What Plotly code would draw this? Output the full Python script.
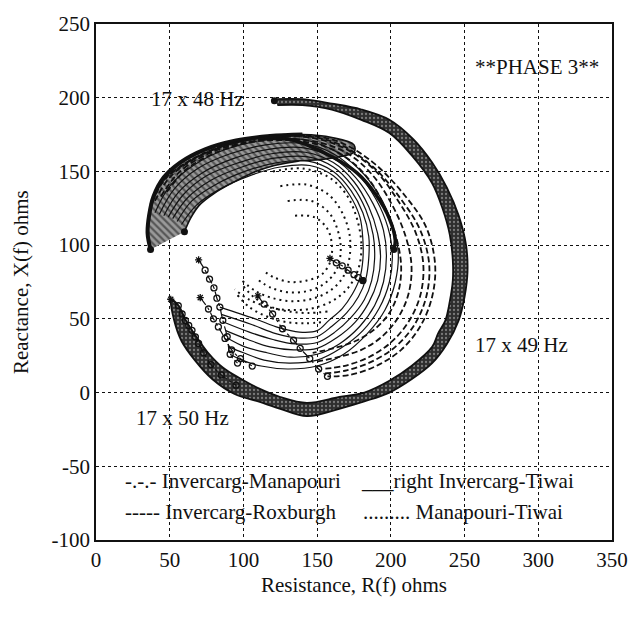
import plotly.graph_objects as go

FONT = "Liberation Serif"

# ---- axis ticks ----
x_tickvals = [0, 50, 100, 150, 200, 250, 300, 350]
x_ticktext = ["0", "50", "100", "150", "200", "250", "300", "350"]
y_tickvals = [-100, -50, 0, 50, 100, 150, 200, 250]
y_ticktext = ["-100", "-50", "0", "50", "100", "150", "200", "250"]

# ---- outer locus band (Invercarg-Tiwai, 17x48 -> 17x50 Hz) ----
ring_outer_x = [121, 140, 160, 180, 199, 215, 228, 238, 246, 251, 252, 250, 246, 238, 228, 214, 199, 182, 165, 143, 125, 110, 94, 79, 67, 58, 53, 51]
ring_outer_y = [199, 199, 196, 192, 185, 172, 156, 139, 120, 100, 82, 65, 49, 33, 20, 9, 0, -6, -11, -16, -11, -6, -1, 9, 22, 35, 49, 63]
ring_inner_x = [123, 140, 160, 180, 199, 214, 228, 235, 240, 242, 242, 240, 237, 232, 228, 214, 199, 182, 165, 143, 125, 110, 97, 86, 76, 68, 61, 56]
ring_inner_y = [195, 195, 192, 185, 176, 161, 142, 125, 107, 90, 76, 62, 49, 40, 31, 18, 8, 0, -3, -7, -3, 3, 10, 17, 27, 38, 49, 59]

# ---- 17 x 48 Hz band (upper left) ----
band48_outer_x = [37, 35, 36, 39, 46, 57, 74, 95, 118, 140, 160, 175]
band48_outer_y = [97, 108, 120, 133, 146, 156, 165, 171, 174, 175, 173, 168]
band48_inner_x = [60, 64, 70, 80, 92, 106, 121, 137, 152, 165, 175]
band48_inner_y = [109, 118, 127, 135, 142, 149, 154, 157, 158, 160, 163]

# ---- heavy arc ending near 17 x 49 Hz ----
K1_x = [110, 130, 143, 160, 177, 190, 199, 203, 202]
K1_y = [172, 172, 168, 160, 149, 134, 118, 103, 97]
# heavy outer edge of the 48 Hz band
K2_x = [37, 35, 36, 39, 46, 57, 74, 95, 118, 140]
K2_y = [97, 108, 120, 133, 146, 156, 165, 171, 174, 175]

# ---- Invercarg-Tiwai inner loci (solid) ----
T1_x = [40, 50, 66, 88, 112, 138, 160, 178, 192, 201, 205, 203, 196, 184, 168, 150, 130, 112, 99, 91]
T1_y = [122, 140, 154, 165, 171, 172, 165, 152, 134, 114, 95, 75, 56, 40, 26, 18, 16, 18, 22, 26]
T2_x = [43, 53, 69, 91, 115, 140, 161, 177, 190, 198, 201, 199, 192, 181, 166, 150, 131, 114, 100, 90]
T2_y = [121, 138, 152, 162, 168, 169, 162, 149, 131, 112, 94, 75, 57, 42, 30, 22, 20, 22, 27, 31]
T3_x = [46, 56, 72, 94, 117, 141, 161, 176, 188, 195, 197, 195, 189, 179, 165, 150, 132, 116, 101, 89]
T3_y = [120, 136, 149, 159, 165, 166, 159, 146, 128, 110, 93, 75, 59, 45, 33, 26, 24, 27, 31, 37]
T4_x = [49, 59, 75, 97, 119, 142, 161, 175, 185, 191, 193, 191, 185, 176, 163, 150, 134, 118, 103, 88]
T4_y = [119, 134, 147, 156, 162, 163, 156, 143, 126, 108, 92, 76, 61, 48, 37, 30, 29, 31, 36, 42]
T5_x = [52, 62, 78, 99, 121, 143, 161, 174, 183, 188, 189, 187, 182, 173, 162, 150, 135, 120, 104, 86]
T5_y = [118, 132, 144, 153, 159, 160, 153, 140, 124, 107, 91, 76, 63, 51, 41, 34, 33, 36, 41, 48]
T6_x = [55, 65, 81, 101, 123, 144, 161, 173, 181, 185, 185, 183, 178, 170, 160, 150, 137, 122, 106, 85]
T6_y = [116, 130, 141, 150, 156, 157, 150, 137, 122, 106, 91, 77, 65, 54, 45, 38, 37, 40, 46, 53]
T7_x = [58, 68, 84, 104, 125, 145, 161, 172, 179, 181, 181, 179, 174, 167, 158, 150, 138, 124, 108, 84]
T7_y = [114, 127, 138, 147, 153, 154, 147, 134, 119, 104, 90, 78, 67, 57, 49, 42, 41, 44, 50, 58]

# ---- Invercarg-Roxburgh loci (dashed) ----
D1_x = [37, 45, 60, 82, 110, 140, 165, 188, 210, 224, 230, 228, 220, 207, 190, 172, 157]
D1_y = [128, 143, 155, 166, 173, 175, 170, 156, 133, 112, 87, 65, 45, 29, 18, 12, 11]
D2_x = [38, 47, 63, 86, 114, 142, 166, 188, 207, 220, 226, 224, 216, 203, 187, 170, 155]
D2_y = [129, 145, 157, 167, 173, 174, 168, 153, 131, 110, 87, 65, 46, 31, 21, 15, 13]
D3_x = [40, 50, 66, 90, 118, 145, 168, 189, 205, 217, 222, 220, 212, 200, 185, 168, 153]
D3_y = [130, 146, 158, 168, 173, 173, 166, 151, 130, 108, 87, 66, 48, 34, 24, 18, 16]
D4_x = [44, 56, 74, 98, 125, 150, 171, 188, 201, 210, 214, 212, 205, 194, 180, 164, 150]
D4_y = [133, 149, 161, 169, 172, 170, 162, 147, 127, 106, 86, 67, 51, 38, 29, 24, 21]
D5_x = [48, 62, 82, 106, 132, 155, 173, 187, 197, 204, 207, 205, 199, 189, 176, 161, 147]
D5_y = [136, 152, 163, 170, 171, 167, 157, 142, 123, 104, 85, 68, 54, 43, 35, 30, 27]

# ---- Invercarg-Manapouri loci (dash-dot, open circles) ----
M1_x = [69.6, 74, 77, 80, 82, 84, 86, 89, 91, 96]
M1_y = [90, 83, 77, 71, 64, 58, 49, 38, 26, 20]
M2_x = [50.7, 55.8, 58.4, 60.6, 62.9, 65.1, 67.4, 69.6, 73, 78, 85, 95]
M2_y = [63.3, 58.9, 53.3, 48.9, 45.5, 42.2, 37.8, 33.3, 27, 19, 12, 5]
M3_x = [70.7, 76.3, 79.7, 83, 87.5, 92, 98, 106]
M3_y = [64.4, 56.7, 50, 44.5, 36.7, 29, 23, 18]
M4_x = [109.8, 114, 119.8, 126.5, 134, 138.5, 145, 151, 157]
M4_y = [65.6, 60, 53.3, 43.3, 35.5, 30, 23, 16, 11]
M5_x = [158.7, 163, 167, 171, 175, 178, 181]
M5_y = [91, 88, 86, 83, 80, 78, 76]

# ---- Manapouri-Tiwai loci (dotted) ----
P1_x = [120, 140, 158, 170, 177, 180, 178, 171, 160, 146, 131, 117, 104, 94]
P1_y = [150, 152, 146, 134, 118, 100, 84, 71, 62, 57, 56, 58, 63, 70]
P2_x = [125, 143, 158, 167, 172, 172, 168, 160, 148, 134, 120, 108, 99]
P2_y = [140, 141, 134, 122, 107, 92, 79, 70, 64, 62, 64, 69, 76]
P3_x = [130, 146, 158, 164, 166, 163, 155, 144, 131, 119, 109]
P3_y = [130, 130, 122, 110, 96, 83, 74, 69, 68, 71, 77]
P4_x = [135, 148, 157, 160, 159, 153, 143, 132, 121, 113]
P4_y = [120, 119, 111, 100, 89, 80, 76, 75, 78, 83]
P5_x = [96, 104, 115, 128, 142, 155]
P5_y = [66, 58, 52, 48, 47, 48]
P6_x = [100, 108, 119, 131, 144, 157]
P6_y = [72, 64, 58, 55, 54, 55]

# ---- heavy end points ----
ends_x = [121, 37, 60, 181, 202]
ends_y = [198, 97, 109, 76, 97]

fig = go.Figure()

BLACK = "#111111"

# outer band (stippled)
fig.add_trace(go.Scatter(x=ring_outer_x + ring_inner_x[::-1], y=ring_outer_y + ring_inner_y[::-1],
                         mode="lines", fill="toself",
                         fillpattern=dict(shape=".", bgcolor="#2e2e2e", fgcolor="#c8c8c8", size=4, solidity=0.25),
                         line=dict(color=BLACK, width=1.8, shape="spline"), hoverinfo="skip", showlegend=False))
# 48 Hz band (hatched)
fig.add_trace(go.Scatter(x=band48_outer_x + band48_inner_x[::-1], y=band48_outer_y + band48_inner_y[::-1],
                         mode="lines", fill="toself",
                         fillpattern=dict(shape="\\", bgcolor="#9a9a9a", fgcolor=BLACK, size=5, solidity=0.45),
                         line=dict(color=BLACK, width=1.6, shape="spline"), hoverinfo="skip", showlegend=False))
fig.add_trace(go.Scatter(x=K2_x, y=K2_y, mode="lines", line=dict(color=BLACK, width=4, shape="spline"),
                         hoverinfo="skip", showlegend=False))

for xs, ys in [(T1_x, T1_y), (T2_x, T2_y), (T3_x, T3_y), (T4_x, T4_y),
               (T5_x, T5_y), (T6_x, T6_y), (T7_x, T7_y)]:
    fig.add_trace(go.Scatter(x=xs, y=ys, mode="lines", line=dict(color=BLACK, width=1.2, shape="spline"),
                             hoverinfo="skip", showlegend=False))

fig.add_trace(go.Scatter(x=K1_x, y=K1_y, mode="lines", line=dict(color=BLACK, width=3.5, shape="spline"),
                         hoverinfo="skip", showlegend=False))

for xs, ys in [(D1_x, D1_y), (D2_x, D2_y), (D3_x, D3_y), (D4_x, D4_y), (D5_x, D5_y)]:
    fig.add_trace(go.Scatter(x=xs, y=ys, mode="lines",
                             line=dict(color=BLACK, width=1.8, dash="6px,3px", shape="spline"),
                             hoverinfo="skip", showlegend=False))

for xs, ys in [(M1_x, M1_y), (M2_x, M2_y), (M3_x, M3_y), (M4_x, M4_y), (M5_x, M5_y)]:
    syms = ["asterisk-open"] + ["circle-open"] * (len(xs) - 1)
    fig.add_trace(go.Scatter(x=xs, y=ys, mode="lines+markers",
                             line=dict(color=BLACK, width=1.2, dash="dashdot", shape="spline"),
                             marker=dict(symbol=syms, size=6, color=BLACK, line=dict(width=1.3, color=BLACK)),
                             hoverinfo="skip", showlegend=False))

for xs, ys in [(P1_x, P1_y), (P2_x, P2_y), (P3_x, P3_y), (P4_x, P4_y), (P5_x, P5_y), (P6_x, P6_y)]:
    fig.add_trace(go.Scatter(x=xs, y=ys, mode="lines",
                             line=dict(color=BLACK, width=2, dash="2px,4px", shape="spline"),
                             hoverinfo="skip", showlegend=False))

fig.add_trace(go.Scatter(x=ends_x, y=ends_y, mode="markers",
                         marker=dict(size=7, color=BLACK), hoverinfo="skip", showlegend=False))

txt = dict(family=FONT, size=21, color=BLACK)
annots = [
    dict(x=299, y=221, text="**PHASE 3**", xanchor="center", yanchor="middle"),
    dict(x=69, y=199, text="17 x 48 Hz", xanchor="center", yanchor="middle"),
    dict(x=288.7, y=32, text="17 x 49 Hz", xanchor="center", yanchor="middle"),
    dict(x=58.5, y=-17, text="17 x 50 Hz", xanchor="center", yanchor="middle"),
    dict(x=18.5, y=-60, text="-.-.- Invercarg-Manapouri", xanchor="left", yanchor="middle"),
    dict(x=178.5, y=-60, text="___right Invercarg-Tiwai", xanchor="left", yanchor="middle"),
    dict(x=18.5, y=-81, text="----- Invercarg-Roxburgh", xanchor="left", yanchor="middle"),
    dict(x=180, y=-81, text="......... Manapouri-Tiwai", xanchor="left", yanchor="middle"),
]
for a in annots:
    a.update(xref="x", yref="y", showarrow=False, font=txt)

annots.append(dict(xref="paper", yref="paper", x=0.5, y=-0.088, text="Resistance, R(f) ohms",
                   showarrow=False, xanchor="center", yanchor="middle", font=txt))
annots.append(dict(xref="paper", yref="paper", x=-0.1453, y=0.5, text="Reactance, X(f) ohms", textangle=-90,
                   showarrow=False, xanchor="center", yanchor="middle", font=txt))

axis_common = dict(showgrid=True, gridcolor=BLACK, gridwidth=1.3, griddash="dot",
                   showline=True, mirror=True, linecolor=BLACK, linewidth=1.6,
                   zeroline=False, ticks="", tickfont=txt)

fig.update_layout(
    width=640, height=617,
    margin=dict(l=96, r=21, t=15, b=77),
    paper_bgcolor="white", plot_bgcolor="white",
    xaxis=dict(range=[0, 350], tickvals=x_tickvals, ticktext=x_ticktext, **axis_common),
    yaxis=dict(range=[-100, 250], tickvals=y_tickvals, ticktext=y_ticktext, **axis_common),
    annotations=annots,
    showlegend=False,
)

fig.write_html("out.html")
